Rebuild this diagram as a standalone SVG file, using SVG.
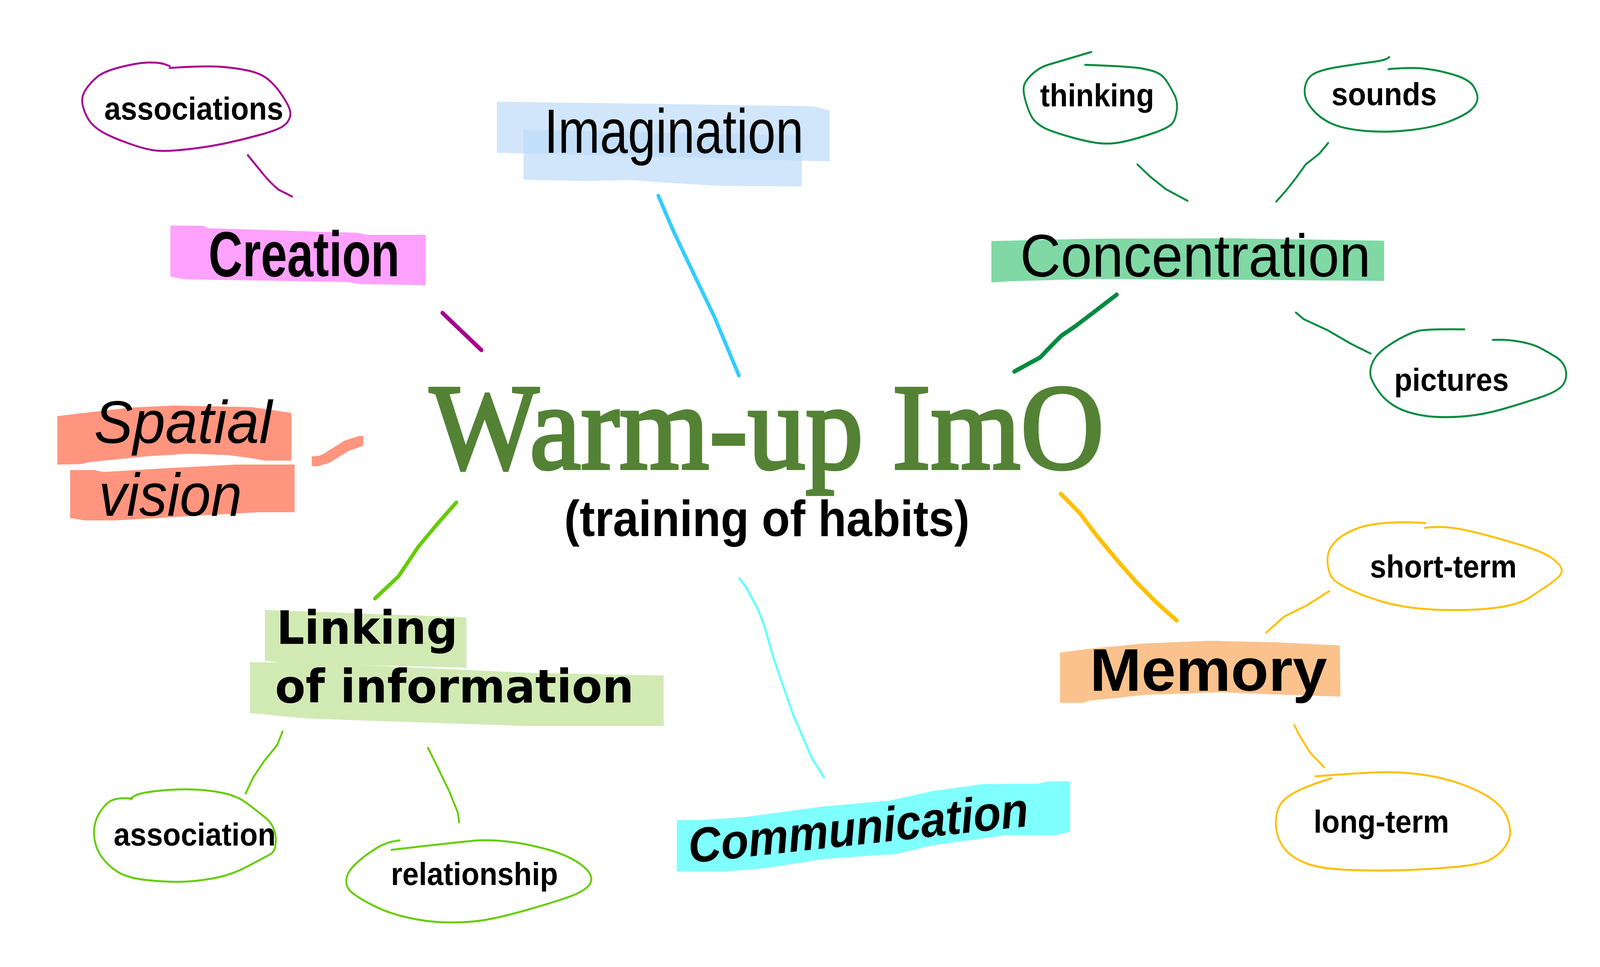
<svg xmlns="http://www.w3.org/2000/svg" width="4400" height="2475" viewBox="0 0 4400 2475">
<style>
.bub{font-family:"Liberation Sans",Arial,sans-serif;font-weight:bold;font-size:82px;fill:#000}
.ln{fill:none;stroke-linecap:round;stroke-linejoin:round}
.pu{stroke:#A6008F}
.gr{stroke:#008B3F}
.lg{stroke:#66CC00}
.ye{stroke:#FFC000}
.thin{stroke-width:5}
.thick{stroke-width:11}
</style>
<rect width="4400" height="2475" fill="#fff"/>
<g id="diagram" transform="scale(0.93,1)">

<g id="connectors">
  <path class="ln pu thin" d="M682,397 Q708,427 725,446 Q742,466 766,485 L804,503"/>
  <path class="ln pu thick" d="M1218,801 L1325,896"/>
  <path class="ln" stroke="#33CCFF" stroke-width="10" d="M1812,501 L1853,590 L1904,690 L1967,812 L2034,961"/>
  <path class="ln gr thick" d="M3074,754 L3025,789 L2960,835 L2922,859 L2895,884 L2863,915 L2792,951"/>
  <path class="ln gr thin" d="M3131,421 L3166,452 L3209,484 L3269,514"/>
  <path class="ln gr thin" d="M3656,366 L3632,393 L3594,421 L3567,456 L3540,488 L3513,516"/>
  <path class="ln gr thin" d="M3567,800 L3589,817 L3654,845 L3719,880 L3773,905"/>
  <path fill="#FF957E" d="M858,1168 L876,1167 L888,1163 L948,1128 L988,1116 L1000,1116 L1000,1141 L960,1154 L906,1185 L876,1193 L858,1193 Z"/>
  <path class="ln lg" stroke-width="10" d="M1256,1286 L1200,1345 L1151,1400 L1097,1475 L1032,1532"/>
  <path class="ln lg thin" d="M778,1872 L763,1907 L727,1948 L697,1990 L676,2031"/>
  <path class="ln lg thin" d="M1178,1914 L1200,1955 L1236,2024 L1260,2079 L1264,2105"/>
  <path class="ln" stroke="#66FFFF" stroke-width="6" d="M2035,1480 L2053,1502 L2083,1553 L2102,1596 L2129,1683 L2183,1829 L2236,1943 L2268,1989"/>
  <path class="ln ye" stroke-width="11" d="M2920,1264 L2973,1314 L3019,1371 L3076,1435 L3127,1489 L3178,1537 L3208,1563 L3239,1588"/>
  <path class="ln ye thin" d="M3659,1513 L3596,1550 L3535,1578 L3486,1619"/>
  <path class="ln ye thin" d="M3563,1856 L3576,1881 L3606,1926 L3645,1964"/>
</g>

<g id="center">
  <text x="1183" y="1199" font-family="'Liberation Serif','Times New Roman',serif" font-size="313" fill="#548235" stroke="#548235" stroke-width="8" textLength="1856" lengthAdjust="spacingAndGlyphs">Warm-up ImO</text>
  <text x="1553" y="1372" font-family="'Liberation Sans',Arial,sans-serif" font-weight="bold" font-size="130" fill="#000" textLength="1116" lengthAdjust="spacingAndGlyphs">(training of habits)</text>
</g>

<g id="creation">
  <path fill="#FFA1FF" d="M469,577 L560,578 L572,584 L985,596 L1010,601 L1172,601 L1172,730 L990,727 L960,722 L510,715 L469,708 Z"/>
  <text x="574" y="707" font-family="'Liberation Sans',Arial,sans-serif" font-weight="bold" font-size="163" textLength="526" lengthAdjust="spacingAndGlyphs">Creation</text>
</g>

<g id="associations">
  <path class="ln pu thin" d="M467,174 Q565,168 608,171 Q651,174 684.5,181 Q718,188 737,202.5 Q756,217 770.5,236 Q785,255 793.5,271 Q802,287 798,300 Q794,313 780,322.5 Q766,332 718,344.5 Q670,357 622,366.5 Q574,376 516.5,382 Q459,388 430.5,385.5 Q402,383 354,367 Q306,351 282,338 Q258,325 246,309 Q234,293 228,271 Q222,249 235.5,230 Q249,211 268,196.5 Q287,182 335,171 Q383,160 411.5,160 Q440,160 453.5,164.5 L467,169"/>
  <text class="bub" x="287" y="306" textLength="493" lengthAdjust="spacingAndGlyphs">associations</text>
</g>

<g id="imagination">
  <path fill="#BDDCF8" opacity="0.7" d="M1368,260 L1500,262 L1900,267 L2240,272 L2284,283 L2284,413 L1368,391 Z"/>
  <path fill="#BDDCF8" opacity="0.7" d="M1441,332 L2207,347 L2207,477 L1990,476 L1820,467 L1740,461 L1600,463 L1441,460 Z"/>
  <text x="1498" y="391" font-family="'Liberation Sans',Arial,sans-serif" font-size="160" textLength="714" lengthAdjust="spacingAndGlyphs">Imagination</text>
</g>

<g id="concentration">
  <path fill="#80D8A5" d="M2729,617 L3000,611 L3400,610 L3810,616 L3810,719 L3400,716 L3000,714 L2780,720 L2729,723 Z"/>
  <text x="2808" y="708" font-family="'Liberation Sans',Arial,sans-serif" font-size="155" textLength="965" lengthAdjust="spacingAndGlyphs">Concentration</text>
</g>

<g id="thinking">
  <path class="ln gr thin" d="M2987,166 Q3112,170 3144.5,175.5 Q3177,181 3190.5,188.5 Q3204,196 3214.5,212 Q3225,228 3233.5,244 Q3242,260 3239.5,281 Q3237,302 3228.5,314 Q3220,326 3177,340 Q3134,354 3096,362 Q3058,370 3025.5,366.5 Q2993,363 2944,350 Q2895,337 2876,328 Q2857,319 2846,307 Q2835,295 2824.5,263 Q2814,231 2819.5,217 Q2825,203 2844,187.5 Q2863,172 2884.5,166 L3004,133"/>
  <text class="bub" x="2863" y="272" textLength="314" lengthAdjust="spacingAndGlyphs">thinking</text>
</g>

<g id="sounds">
  <path class="ln gr thin" d="M3822,177 Q3882,172 3919.5,175.5 Q3957,179 4000.5,191 Q4044,203 4056,221 Q4068,239 4067,253 Q4066,267 4049.5,281 Q4033,295 3990,310.5 Q3947,326 3882,333 Q3817,340 3757,335 Q3697,330 3664.5,316 Q3632,302 3610.5,277.5 Q3589,253 3591.5,228 Q3594,203 3613,191 Q3632,179 3686.5,171 Q3741,163 3779,158.5 Q3817,154 3824,146"/>
  <text class="bub" x="3665" y="269" textLength="290" lengthAdjust="spacingAndGlyphs">sounds</text>
</g>

<g id="pictures">
  <path class="ln gr thin" d="M4031,843 Q3925,842 3903.5,847 Q3882,852 3854.5,866 Q3827,880 3805.5,896 Q3784,912 3776,933 Q3768,954 3776,971.5 Q3784,989 3800.5,1008.5 Q3817,1028 3844,1042 Q3871,1056 3914,1063 Q3957,1070 4017,1066.5 Q4077,1063 4136.5,1047 Q4196,1031 4244.5,1015.5 Q4293,1000 4304,982.5 Q4315,965 4309.5,945.5 Q4304,926 4282.5,913.5 Q4261,901 4239.5,890.5 Q4218,880 4180,874 Q4142,868 4109,870"/>
  <text class="bub" x="3838" y="1000" textLength="315" lengthAdjust="spacingAndGlyphs">pictures</text>
</g>

<g id="spatial-vision">
  <path fill="#FF957E" d="M158,1065 L221,1058 L361,1043 L482,1038 L694,1042 L754,1050 L802,1057 L802,1179 L730,1179 L688,1172 L627,1165 L524,1161 L403,1168 L245,1183 L221,1188 L158,1189 Z"/>
  <path fill="#FF957E" d="M193,1203 L259,1203 L285,1208 L464,1198 L651,1189 L811,1189 L811,1311 L712,1311 L318,1332 L233,1332 L193,1326 Z"/>
  <text x="259" y="1134" font-family="'Liberation Sans',Arial,sans-serif" font-style="italic" font-size="155" textLength="490" lengthAdjust="spacingAndGlyphs">Spatial</text>
  <text x="272" y="1320" font-family="'Liberation Sans',Arial,sans-serif" font-style="italic" font-size="155" textLength="394" lengthAdjust="spacingAndGlyphs">vision</text>
</g>

<g id="linking">
  <path fill="#D1EAB4" d="M729,1561 L1284,1580 L1284,1709 L900,1700 L780,1697 L729,1691 Z"/>
  <path fill="#D1EAB4" d="M688,1695 L848,1696 L1454,1722 L1827,1729 L1827,1858 L1442,1858 L848,1839 L775,1833 L688,1825 Z"/>
  <text x="761" y="1648" font-family="'DejaVu Sans',Verdana,sans-serif" font-weight="bold" font-size="118" textLength="499" lengthAdjust="spacingAndGlyphs">Linking</text>
  <text x="757" y="1798" font-family="'DejaVu Sans',Verdana,sans-serif" font-weight="bold" font-size="118" textLength="988" lengthAdjust="spacingAndGlyphs">of information</text>
</g>

<g id="association">
  <path class="ln lg thin" d="M359,2046 Q364,2038 382,2032.5 Q400,2027 448.5,2023 Q497,2019 539.5,2021 Q582,2023 618,2030.5 Q654,2038 678.5,2055 Q703,2072 730,2092.5 Q757,2113 759,2145.5 Q761,2178 744,2186.5 Q727,2195 681.5,2217.5 Q636,2240 584.5,2248.5 Q533,2257 490.5,2257 Q448,2257 399.5,2252 Q351,2247 324,2231.5 Q297,2216 279,2192 Q261,2168 259,2137 Q257,2106 274,2080.5 Q291,2055 309,2048 Q327,2041 364,2044"/>
  <text class="bub" x="313" y="2164" textLength="446" lengthAdjust="spacingAndGlyphs">association</text>
</g>

<g id="relationship">
  <path class="ln lg thin" d="M1100,2151 Q1066,2154 1036,2171 Q1006,2188 981.5,2209 Q957,2230 954,2247 Q951,2264 960,2276 Q969,2288 1011.5,2310 Q1054,2332 1102.5,2344 Q1151,2356 1199.5,2359.5 Q1248,2363 1302.5,2358.5 Q1357,2354 1454,2328 Q1551,2302 1581.5,2290 Q1612,2278 1622.5,2264 Q1633,2250 1622.5,2234.5 Q1612,2219 1581.5,2202 Q1551,2185 1496.5,2171.5 Q1442,2158 1393.5,2153.5 Q1345,2149 1314.5,2151 Q1284,2153 1078,2175"/>
  <text class="bub" x="1076" y="2265" textLength="460" lengthAdjust="spacingAndGlyphs">relationship</text>
</g>

<g id="communication">
  <path fill="#80FFFF" d="M1863,2099 L1930,2099 L2053,2091 L2267,2064 L2450,2049 L2565,2025 L2703,2007 L2856,2006 L2883,2000 L2946,2000 L2946,2129 L2902,2138 L2772,2137 L2565,2164 L2466,2186 L2274,2198 L2106,2222 L1991,2231 L1863,2231 Z"/>
  <text x="0" y="0" transform="translate(1899,2209) rotate(-5.8)" font-family="'Liberation Sans',Arial,sans-serif" font-weight="bold" font-style="italic" font-size="125" textLength="940" lengthAdjust="spacingAndGlyphs">Communication</text>
</g>

<g id="memory">
  <path fill="#FBC28D" d="M2918,1670 L3004,1660 L3147,1647 L3331,1640 L3514,1644 L3688,1652 L3690,1783 L3621,1781 L3361,1772 L3157,1778 L2994,1794 L2984,1799 L2918,1799 Z"/>
  <text x="3000" y="1768" font-family="'Liberation Sans',Arial,sans-serif" font-weight="bold" font-size="155" textLength="653" lengthAdjust="spacingAndGlyphs">Memory</text>
</g>

<g id="short-term">
  <path class="ln ye thin" d="M3924,1339 Q3861,1335 3815,1338.5 Q3769,1342 3743.5,1350 Q3718,1358 3698,1369.5 Q3678,1381 3665,1398.5 Q3652,1416 3654.5,1441.5 Q3657,1467 3667.5,1479.5 Q3678,1492 3713.5,1508 Q3749,1524 3800,1538.5 Q3851,1553 3912,1558 Q3973,1563 4039.5,1561 Q4106,1559 4147,1551 Q4188,1543 4208.5,1530.5 Q4229,1518 4259.5,1499 Q4290,1480 4296,1470 Q4302,1460 4296,1450.5 Q4290,1441 4269.5,1427 Q4249,1413 4188,1395.5 Q4127,1378 4075.5,1366 Q4024,1354 3993.5,1350.5 Q3963,1347 3922,1351"/>
  <text class="bub" x="3771" y="1478" textLength="404" lengthAdjust="spacingAndGlyphs">short-term</text>
</g>

<g id="long-term">
  <path class="ln ye thin" d="M3621,1987 Q3759,1977 3810,1976.5 Q3861,1976 3917,1983 Q3973,1990 4024.5,2007.5 Q4076,2025 4106.5,2045.5 Q4137,2066 4147,2088.5 Q4157,2111 4157,2130 Q4157,2149 4142,2168.5 Q4127,2188 4101.5,2200.5 Q4076,2213 3999,2219.5 Q3922,2226 3845.5,2227.5 Q3769,2229 3703,2226 Q3637,2223 3601,2211.5 Q3565,2200 3544.5,2181 Q3524,2162 3516.5,2136.5 Q3509,2111 3514,2085.5 Q3519,2060 3537,2045.5 Q3555,2031 3585.5,2018.5 Q3616,2006 3665,1992"/>
  <text class="bub" x="3616" y="2131" textLength="373" lengthAdjust="spacingAndGlyphs">long-term</text>
</g>

</g>
</svg>
